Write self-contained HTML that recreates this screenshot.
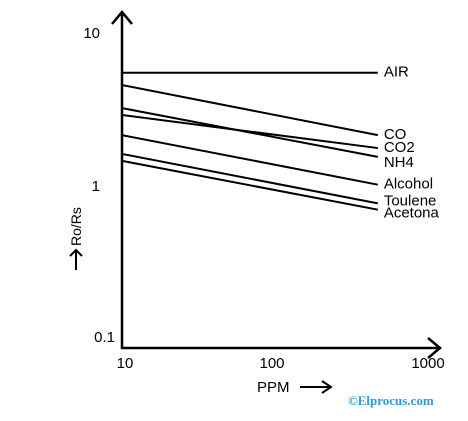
<!DOCTYPE html>
<html><head><meta charset="utf-8"><style>
body{margin:0;background:#fff;}
svg{display:block;font-family:"Liberation Sans",sans-serif;}
</style></head><body>
<svg id="c" width="468" height="421">
<g id="axes">
<line x1="122" y1="12" x2="122" y2="349" stroke="#000" stroke-width="2.5"/>
<polyline points="112,24 122,12 132,24" fill="none" stroke="#000" stroke-width="2.5"/>
<line x1="121" y1="348" x2="440" y2="348" stroke="#000" stroke-width="2.5"/>
<polyline points="428,338 440,348 428,358" fill="none" stroke="#000" stroke-width="2.5"/>
<text x="100" y="38" font-size="15" text-anchor="end">10</text>
<text x="100" y="191" font-size="15" text-anchor="end">1</text>
<text x="115" y="342" font-size="15" text-anchor="end">0.1</text>
<text x="125" y="368" font-size="15" text-anchor="middle">10</text>
<text x="272" y="368" font-size="15" text-anchor="middle">100</text>
<text x="428" y="368" font-size="15" text-anchor="middle">1000</text>
<text x="257" y="392" font-size="15">PPM</text>
<line x1="300" y1="387" x2="330" y2="387" stroke="#000" stroke-width="2"/>
<polyline points="322,381 331,387 322,393" fill="none" stroke="#000" stroke-width="2"/>
<g transform="translate(76,250) rotate(-90)">
<line x1="0" y1="0" x2="-20" y2="0" stroke="#000" stroke-width="2"/>
<polyline points="-6,-6 0,0 -6,6" fill="none" stroke="#000" stroke-width="2"/>
<text x="4" y="5" font-size="14">Ro/Rs</text>
</g>
<text x="348" y="405" font-size="13" font-weight="bold" fill="#2a9ad8" font-family="Liberation Serif,serif">©Elprocus.com</text>
</g>
<g id="series"></g>
</svg>
<script>
const names=["AIR","CO","CO2","NH4","Alcohol","Toulene","Acetona"];
const startVals=[5.5,4.57,2.91,3.23,2.15,1.62,1.46];
const endVals=[5.5,2.15,1.77,1.55,1.02,0.77,0.70];
const ppmRange=[10,470];
const labelDy=[4,4,4,10,4,2,8];
function xs(p){return 122+153*Math.log10(p/10);}
function ys(v){return 186-153*Math.log10(v);}
const g=document.getElementById('series');
const NS="http://www.w3.org/2000/svg";
names.forEach((n,i)=>{
 const l=document.createElementNS(NS,'line');
 l.setAttribute('x1',xs(ppmRange[0]));l.setAttribute('y1',ys(startVals[i]));
 l.setAttribute('x2',xs(ppmRange[1]));l.setAttribute('y2',ys(endVals[i]));
 l.setAttribute('stroke','#000');l.setAttribute('stroke-width','2');
 
 
 g.appendChild(l);
 const t=document.createElementNS(NS,'text');
 t.setAttribute('x',xs(ppmRange[1])+6);t.setAttribute('y',ys(endVals[i])+labelDy[i]);
 t.setAttribute('font-size','15');t.textContent=n;
 
 
 g.appendChild(t);
});
</script>
</body></html>
